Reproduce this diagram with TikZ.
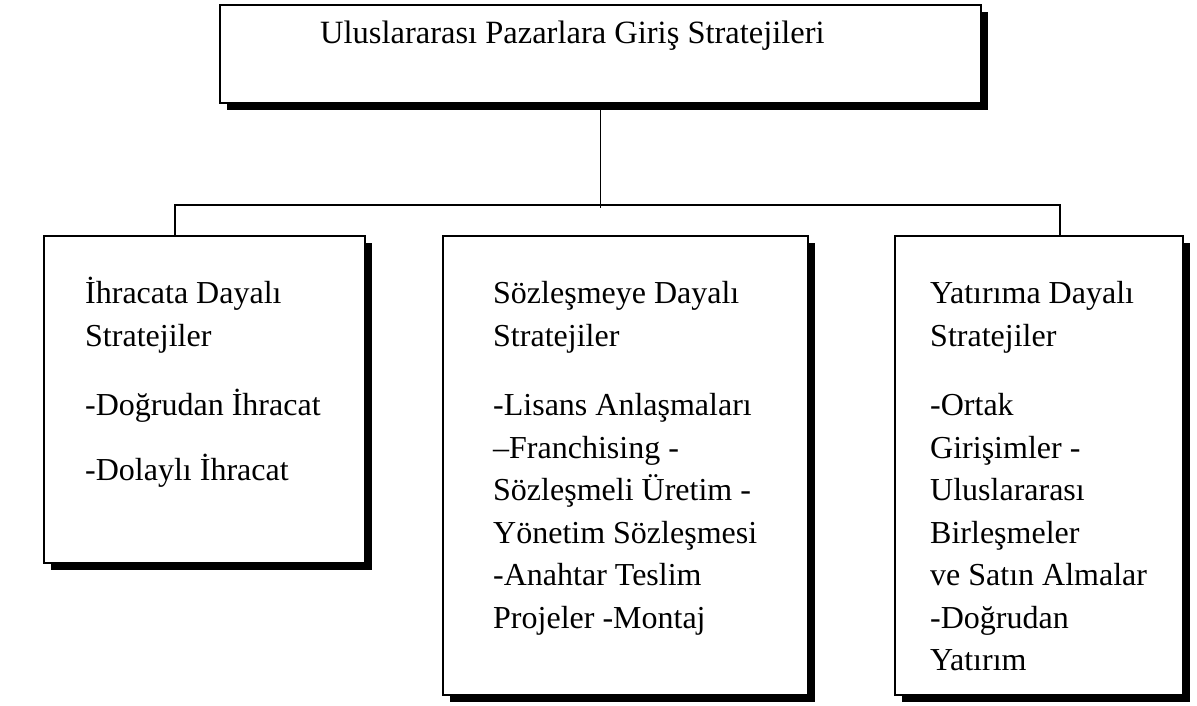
\documentclass[tikz,border=0pt]{standalone}
\usepackage{fontspec}
\setmainfont{Liberation Serif}
\usetikzlibrary{shadows}
\tikzset{
  boxnode/.style={draw=black, line width=1.3pt, fill=white, rectangle, inner sep=0pt,
    general shadow={fill=black, shadow xshift=7pt, shadow yshift=-7pt}},
  conn/.style={draw=black, line width=1.3pt},
  boxtext/.style={anchor=base west, inner sep=0pt, font=\fontsize{32}{42.5}\selectfont}
}
\newcommand\tline[1]{\hbox{#1}}
\begin{document}
\begin{tikzpicture}[x=1pt, y=-1pt]
\useasboundingbox (0,0) rectangle (1197,705);
% boxes
\node[boxnode, minimum width=761pt, minimum height=98pt] (top) at (600.5,54) {};
\node[boxnode, minimum width=321pt, minimum height=327pt] (b1) at (204.5,399.5) {};
\node[boxnode, minimum width=365pt, minimum height=459pt] (b2) at (625.5,465.5) {};
\node[boxnode, minimum width=288pt, minimum height=459pt] (b3) at (1039,465.5) {};
% connectors
\coordinate (hj) at (601,208);
\coordinate (hl) at (175,205);
\coordinate (hr) at (1060,205);
\draw[conn] (top.south) -- (top.south |- hj);
\draw[conn] (b1.north -| hl) -- (hl) -- (hr) -- (b3.north -| hr);
% texts
\node[boxtext, font=\fontsize{32.5}{38}\selectfont] (ttop) at (320,43) {Uluslararası Pazarlara Giriş Stratejileri};
\node[boxtext] (t1) at (85,303.5)
  {\vtop{\tline{İhracata Dayalı}\tline{Stratejiler}\vskip27pt\tline{-Doğrudan İhracat}\vskip22pt\tline{-Dolaylı İhracat}}};
\node[boxtext] (t2) at (493,303.5)
  {\vtop{\tline{Sözleşmeye Dayalı}\tline{Stratejiler}\vskip27pt\tline{-Lisans Anlaşmaları}\tline{–Franchising -}\tline{Sözleşmeli Üretim -}\tline{Yönetim Sözleşmesi}\tline{-Anahtar Teslim}\tline{Projeler -Montaj}}};
\node[boxtext] (t3) at (930,303.5)
  {\vtop{\tline{Yatırıma Dayalı}\tline{Stratejiler}\vskip27pt\tline{-Ortak}\tline{Girişimler -}\tline{Uluslararası}\tline{Birleşmeler}\tline{ve Satın Almalar}\tline{-Doğrudan}\tline{Yatırım}}};
\end{tikzpicture}
\end{document}
